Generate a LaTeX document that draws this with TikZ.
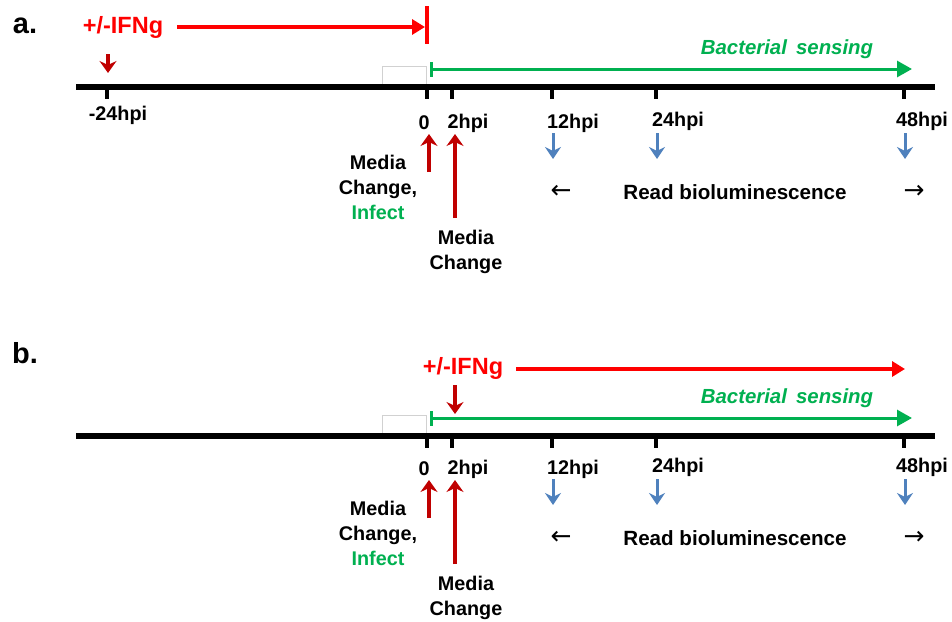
\documentclass[tikz,border=0pt]{standalone}
\usepackage{fontspec}
\setmainfont{Liberation Sans}
\newfontfamily\arrowfont{DejaVu Sans}
\usetikzlibrary{arrows.meta}
\definecolor{ifnred}{RGB}{255,0,0}
\definecolor{dred}{RGB}{192,0,0}
\definecolor{grn}{RGB}{0,176,80}
\definecolor{blu}{RGB}{79,129,189}
\tikzset{
  lbl/.style={font=\bfseries\fontsize{19.8}{25}\selectfont, inner sep=0pt, text=black},
  readlbl/.style={font=\bfseries\fontsize{20.6}{25}\selectfont, inner sep=0pt, text=black},
  arrlbl/.style={font=\arrowfont\mdseries\fontsize{25}{25}\selectfont, inner sep=0pt, text=black},
  sense/.style={font=\bfseries\itshape\fontsize{20.4}{24}\selectfont, inner sep=0pt, text=grn},
  ifn/.style={font=\bfseries\fontsize{23.5}{26}\selectfont, inner sep=0pt, text=ifnred},
  panellbl/.style={font=\bfseries\fontsize{29}{32}\selectfont, inner sep=0pt},
  axisline/.style={line width=5.5pt, black},
  tickline/.style={line width=3.5pt, black},
  greenarrow/.style={draw=grn, line width=3pt, arrows={Bar[width=15pt,line width=3pt]-Triangle[length=15pt,width=16pt]}},
  redarrow/.style={draw=ifnred, line width=4.5pt, -{Triangle[length=13pt,width=15pt]}},
  redbar/.style={draw=ifnred, line width=4.5pt},
  darkarrow/.style={draw=dred, line width=3.5pt, -{Stealth[length=12pt,width=17pt,inset=4pt]}},
  bluearrow/.style={draw=blu, line width=3pt, -{Stealth[length=12pt,width=16pt,inset=4pt]}},
  grayrect/.style={draw=black!18, line width=0.7pt},
}
\newcommand\timelinepanel[3]{%
\begin{scope}[shift={(0,#2)}, name prefix=#1-]
  \draw[grayrect] (382,66) rectangle (426,85);
  \coordinate (axL) at (76,87);
  \coordinate (axR) at (935,87);
  \draw[axisline] (axL) -- (axR);
  \foreach \x/\n in {427/t0,452/t2,552/t12,656/t24,904/t48} {
    \coordinate (\n) at (\x,87);
    \draw[tickline] (\n) -- ++(0,12);
  }
  \coordinate (gS) at (430,69);
  \coordinate (gE) at (912,69);
  \draw[greenarrow] (gS) -- (gE);
  \node[sense] (sense) at (787,49) {Bacterial\, sensing};
\end{scope}
\begin{scope}[shift={(0,#3)}, name prefix=#1-]
  \node[lbl] (l0) at (424,123) {0};
  \node[lbl] (l2) at (468,123) {2hpi};
  \node[lbl] (l12) at (573,123) {12hpi};
  \node[lbl] (l24) at (678,121) {24hpi};
  \node[lbl] (l48) at (922,121) {48hpi};
  \foreach \x/\n in {553/b12,657/b24,905/b48} {
    \coordinate (\n s) at (\x,133);
    \coordinate (\n e) at (\x,159);
    \draw[bluearrow] (\n s) -- (\n e);
  }
  \coordinate (r0s) at (429,172);
  \coordinate (r0e) at (429,134);
  \draw[darkarrow] (r0s) -- (r0e);
  \coordinate (r2s) at (455,218);
  \coordinate (r2e) at (455,134);
  \draw[darkarrow] (r2s) -- (r2e);
  \node[lbl, align=center] (mci) at (378,187) {Media\\Change,\\\textcolor{grn}{Infect}};
  \node[lbl, align=center] (mc) at (466,252) {Media\\Change};
  \node[readlbl] (read) at (735,192) {Read bioluminescence};
  \node[arrlbl] (la) at (561,192) {←};
  \node[arrlbl] (ra) at (914,192) {→};
\end{scope}}
\begin{document}
\begin{tikzpicture}[x=1pt, y=-1pt]
\useasboundingbox (0,0) rectangle (952,621);
% panel a
\timelinepanel{a}{0}{0}
\node[panellbl] (pa) at (25,26) {a.};
\node[ifn] (ifna) at (123,27) {+/-IFNg};
\coordinate (ifnaS) at (177,27);
\coordinate (ifnaE) at (425,27);
\draw[redarrow] (ifnaS) -- (ifnaE);
\coordinate (barT) at (427,6);
\coordinate (barB) at (427,44);
\draw[redbar] (barT) -- (barB);
\coordinate (dAs) at (108,54);
\coordinate (dAe) at (108,73);
\draw[darkarrow] (dAs) -- (dAe);
\coordinate (tm24) at (107,87);
\draw[tickline] (tm24) -- ++(0,12);
\node[lbl] (lm24) at (118,115) {-24hpi};
% panel b
\timelinepanel{b}{349}{346}
\node[panellbl] (pb) at (25,353) {b.};
\node[ifn] (ifnb) at (463,368) {+/-IFNg};
\coordinate (ifnbS) at (516,369);
\coordinate (ifnbE) at (905,369);
\draw[redarrow] (ifnbS) -- (ifnbE);
\coordinate (dBs) at (455,385);
\coordinate (dBe) at (455,414);
\draw[darkarrow] (dBs) -- (dBe);
\end{tikzpicture}
\end{document}
